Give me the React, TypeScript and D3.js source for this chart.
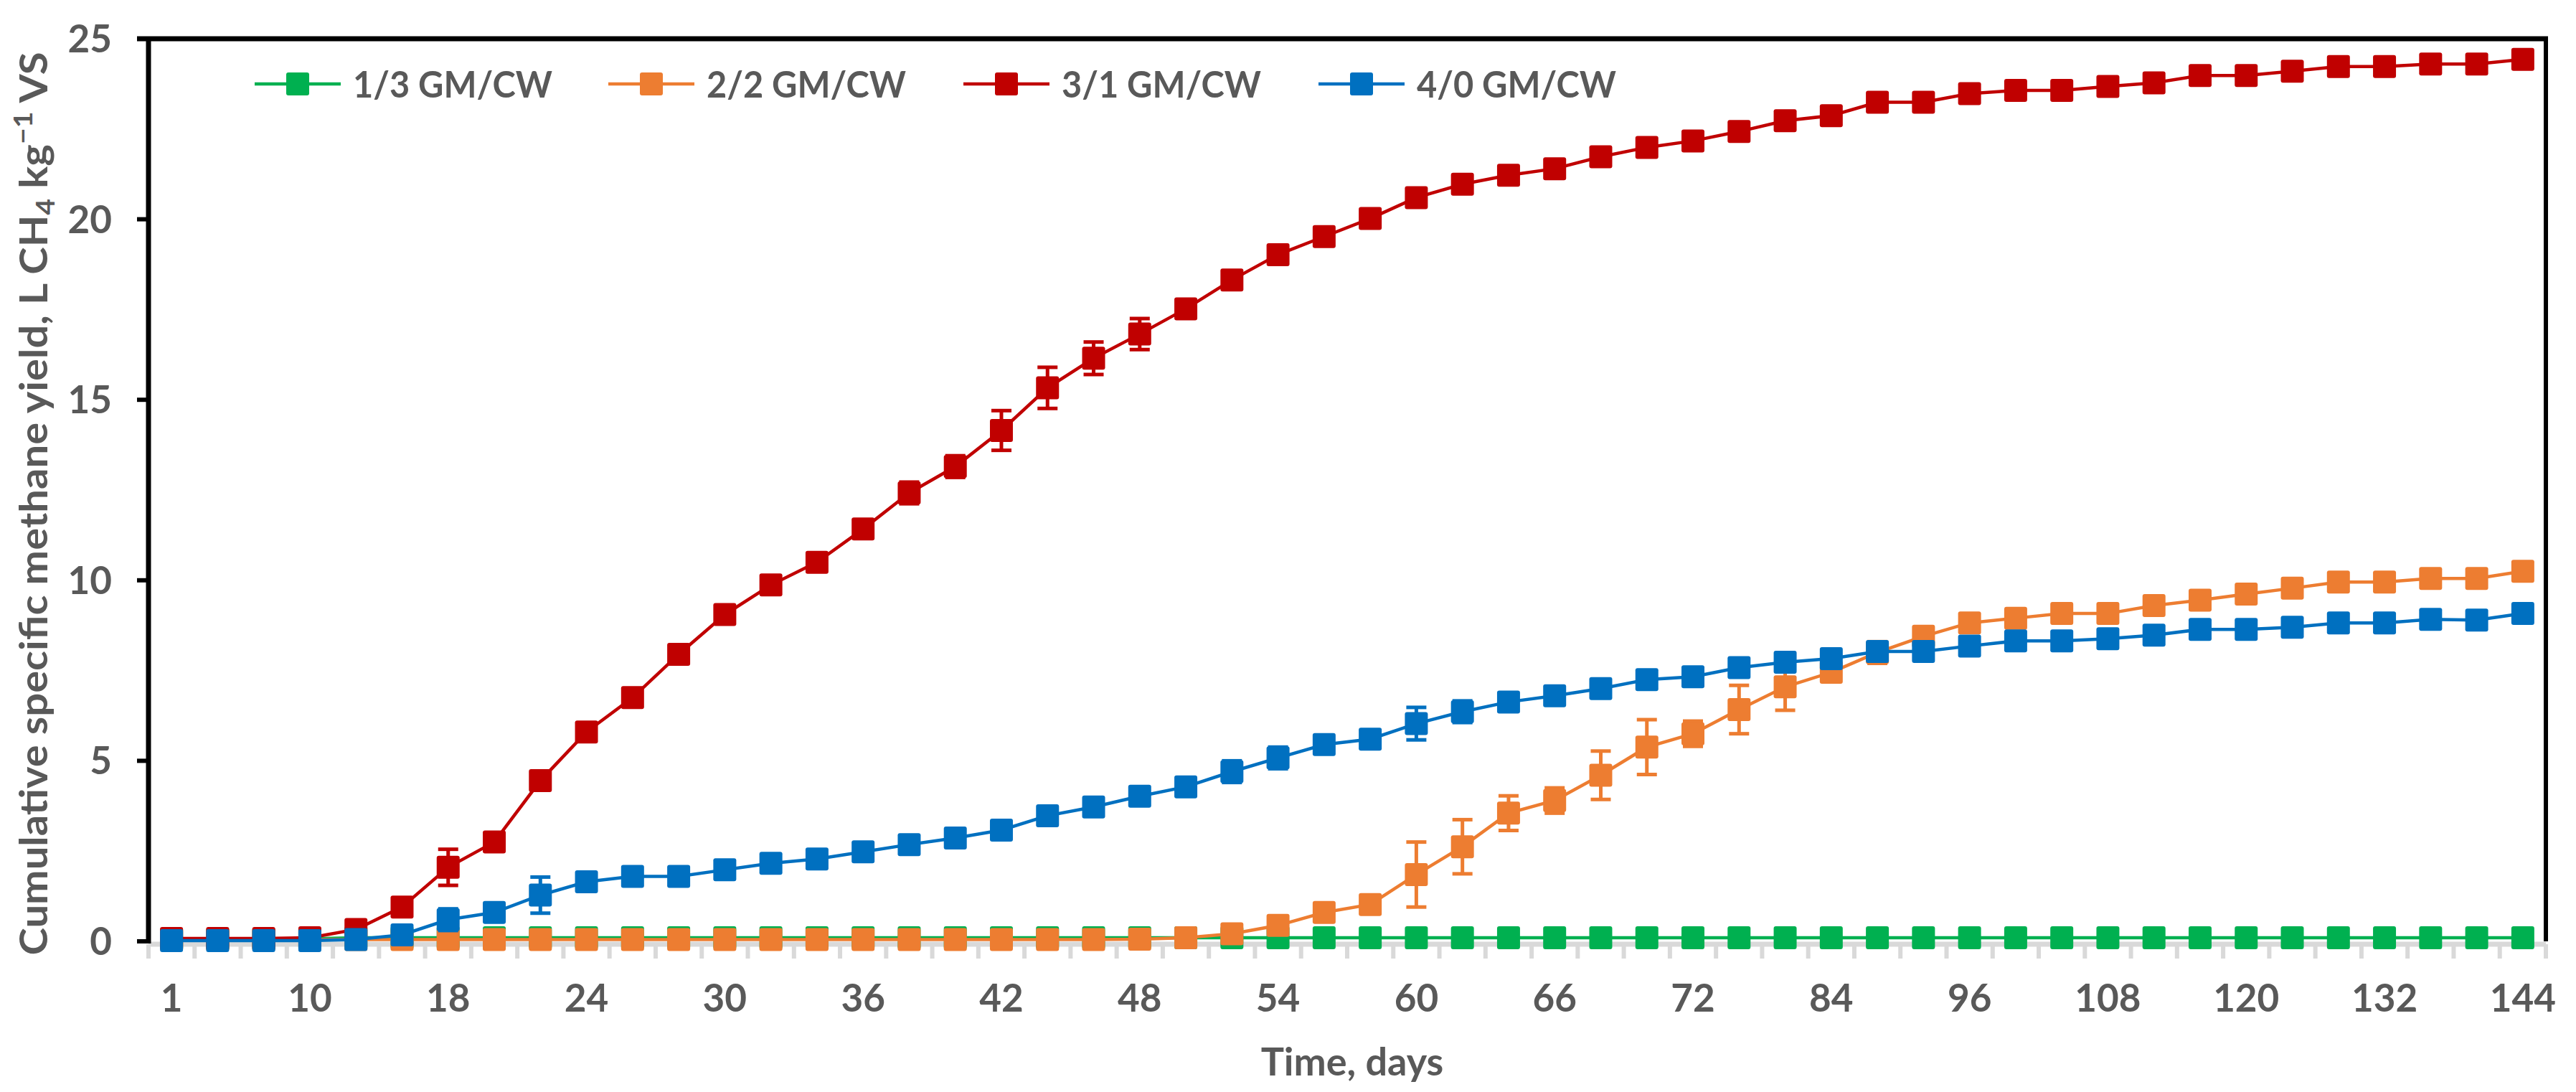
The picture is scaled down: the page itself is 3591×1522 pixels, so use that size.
import React from "react";
import * as d3 from "d3";

const days = [1, 4, 7, 10, 13, 16, 18, 20, 22, 24, 26, 28, 30, 32, 34, 36, 38, 40, 42, 44, 46, 48, 50, 52, 54, 56, 58, 60, 62, 64, 66, 68, 70, 72, 76, 80, 84, 88, 92, 96, 100, 104, 108, 112, 116, 120, 124, 128, 132, 136, 140, 144];

const seriesNames = ["1/3 GM/CW", "2/2 GM/CW", "3/1 GM/CW", "4/0 GM/CW"];
const seriesColors = ["#00B050", "#ED7D31", "#C00000", "#0070C0"];

const gm13 = [0.06, 0.06, 0.06, 0.07, 0.1, 0.1, 0.1, 0.1, 0.1, 0.1, 0.1, 0.1, 0.1, 0.1, 0.1, 0.1, 0.1, 0.1, 0.1, 0.1, 0.1, 0.1, 0.1, 0.1, 0.1, 0.1, 0.1, 0.1, 0.1, 0.1, 0.1, 0.1, 0.1, 0.1, 0.1, 0.1, 0.1, 0.1, 0.1, 0.1, 0.1, 0.1, 0.1, 0.1, 0.1, 0.1, 0.1, 0.1, 0.1, 0.1, 0.1, 0.1];
const gm22 = [0.05, 0.05, 0.05, 0.05, 0.05, 0.05, 0.05, 0.05, 0.05, 0.05, 0.05, 0.05, 0.05, 0.05, 0.05, 0.05, 0.05, 0.05, 0.05, 0.05, 0.05, 0.06, 0.1, 0.21, 0.44, 0.8, 1.02, 1.85, 2.62, 3.55, 3.9, 4.6, 5.38, 5.75, 6.42, 7.05, 7.45, 8.0, 8.45, 8.82, 8.95, 9.08, 9.08, 9.3, 9.45, 9.62, 9.78, 9.95, 9.95, 10.05, 10.05, 10.25];
const gm31 = [0.08, 0.08, 0.08, 0.1, 0.33, 0.95, 2.05, 2.75, 4.45, 5.8, 6.75, 7.95, 9.05, 9.87, 10.5, 11.42, 12.42, 13.15, 14.15, 15.33, 16.15, 16.82, 17.52, 18.32, 19.02, 19.52, 20.02, 20.6, 20.97, 21.22, 21.4, 21.73, 21.99, 22.17, 22.43, 22.73, 22.87, 23.24, 23.24, 23.48, 23.57, 23.57, 23.68, 23.78, 23.98, 23.98, 24.1, 24.23, 24.23, 24.3, 24.3, 24.43];
const gm40 = [0.02, 0.02, 0.02, 0.02, 0.05, 0.18, 0.6, 0.8, 1.28, 1.65, 1.8, 1.8, 1.98, 2.16, 2.28, 2.48, 2.68, 2.86, 3.08, 3.48, 3.72, 4.02, 4.28, 4.7, 5.08, 5.45, 5.6, 6.03, 6.36, 6.63, 6.8, 7.0, 7.25, 7.33, 7.58, 7.73, 7.83, 8.03, 8.03, 8.18, 8.32, 8.32, 8.38, 8.48, 8.64, 8.64, 8.7, 8.82, 8.82, 8.92, 8.9, 9.08];

const err13 = days.map(() => 0.02);
const err22 = [0.05, 0.05, 0.05, 0.05, 0.05, 0.05, 0.05, 0.05, 0.05, 0.05, 0.05, 0.05, 0.05, 0.05, 0.05, 0.05, 0.05, 0.05, 0.05, 0.05, 0.05, 0.05, 0.05, 0.1, 0.1, 0.12, 0.15, 0.9, 0.75, 0.48, 0.35, 0.67, 0.76, 0.35, 0.67, 0.65, 0.25, 0.3, 0.1, 0.1, 0.1, 0.1, 0.1, 0.1, 0.1, 0.1, 0.1, 0.1, 0.1, 0.1, 0.1, 0.1];
const err31 = [0.05, 0.05, 0.05, 0.05, 0.1, 0.15, 0.5, 0.1, 0.1, 0.15, 0.1, 0.1, 0.1, 0.1, 0.1, 0.1, 0.3, 0.3, 0.55, 0.57, 0.45, 0.43, 0.1, 0.25, 0.1, 0.1, 0.1, 0.1, 0.1, 0.1, 0.1, 0.1, 0.1, 0.1, 0.1, 0.1, 0.1, 0.1, 0.1, 0.1, 0.1, 0.1, 0.1, 0.1, 0.1, 0.1, 0.1, 0.1, 0.1, 0.1, 0.1, 0.1];
const err40 = [0.05, 0.05, 0.05, 0.05, 0.05, 0.1, 0.3, 0.1, 0.5, 0.15, 0.1, 0.1, 0.1, 0.1, 0.1, 0.1, 0.1, 0.1, 0.1, 0.2, 0.1, 0.1, 0.1, 0.3, 0.3, 0.2, 0.1, 0.45, 0.3, 0.1, 0.1, 0.1, 0.1, 0.1, 0.1, 0.1, 0.1, 0.1, 0.1, 0.1, 0.1, 0.1, 0.1, 0.1, 0.1, 0.1, 0.1, 0.1, 0.1, 0.1, 0.1, 0.1];

const yTicks = [0, 5, 10, 15, 20, 25];

const W = 3591;
const H = 1522;
const plotL = 207;
const plotR = 3549;
const plotT = 54;
const plotB = 1312;
const FONT = "Lato, 'Open Sans', sans-serif";
const TEXT = "#595959";

export default function App() {
  const series = [gm13, gm22, gm31, gm40];
  const errs = [err13, err22, err31, err40];
  const cats = days.map(String);

  const x = d3.scaleBand<string>().domain(cats).range([plotL, plotR]).paddingInner(0).paddingOuter(0);
  const bw = x.bandwidth();
  const cx = (i: number) => (x(cats[i]) as number) + bw / 2;
  const y = d3.scaleLinear().domain([0, 25]).range([plotB, plotT]);

  const line = d3
    .line<number>()
    .x((_, i) => cx(i))
    .y((d) => y(d));

  const ms = 32;
  const cap = 28;
  const boundaries = d3.range(cats.length + 1).map((i) => plotL + i * bw);

  const legendX = [355, 848, 1343, 1838];
  const legendY = 117;

  return (
    <svg
      width={W}
      height={H}
      viewBox={`0 0 ${W} ${H}`}
      style={{ position: "absolute", left: 0, top: 0, background: "#fff" }}
      fontFamily={FONT}
    >
      <rect x={0} y={0} width={W} height={H} fill="#fff" />
      {/* x axis gray line and ticks */}
      <line x1={plotL} x2={plotR} y1={plotB + 4} y2={plotB + 4} stroke="#D9D9D9" strokeWidth={7} />
      {boundaries.map((bx, i) => (
        <line key={"xt" + i} x1={bx} x2={bx} y1={plotB + 4} y2={plotB + 24} stroke="#D9D9D9" strokeWidth={6} />
      ))}
      {/* x tick labels */}
      {cats.map((c, i) =>
        i % 3 === 0 ? (
          <text key={"xl" + i} x={cx(i)} y={1410} textAnchor="middle" fontSize={53} fontWeight={700} fill={TEXT}>
            {c}
          </text>
        ) : null
      )}
      {/* y ticks and labels */}
      {yTicks.map((t) => (
        <g key={"yt" + t}>
          <line x1={191} x2={plotL} y1={y(t)} y2={y(t)} stroke="#000" strokeWidth={6} />
          <text x={156} y={y(t) + 19} textAnchor="end" fontSize={53} fontWeight={700} fill={TEXT}>
            {t}
          </text>
        </g>
      ))}
      {/* frame */}
      <line x1={plotL} x2={plotL} y1={plotT - 3} y2={plotB + 3} stroke="#000" strokeWidth={7} />
      <line x1={191} x2={plotR + 3} y1={plotT} y2={plotT} stroke="#000" strokeWidth={7} />
      <line x1={plotR} x2={plotR} y1={plotT - 3} y2={plotB} stroke="#000" strokeWidth={6} />

      {/* series */}
      {series.map((vals, s) => (
        <g key={"s" + s}>
          <path d={line(vals) as string} fill="none" stroke={seriesColors[s]} strokeWidth={4.5} />
          {vals.map((v, i) => {
            const e = errs[s][i];
            return (
              <g key={"e" + i} stroke={seriesColors[s]} strokeWidth={5}>
                <line x1={cx(i)} x2={cx(i)} y1={y(v + e)} y2={y(Math.max(0, v - e))} />
                <line x1={cx(i) - cap / 2} x2={cx(i) + cap / 2} y1={y(v + e)} y2={y(v + e)} />
                <line x1={cx(i) - cap / 2} x2={cx(i) + cap / 2} y1={y(v - e)} y2={y(v - e)} />
              </g>
            );
          })}
          {vals.map((v, i) => (
            <rect key={"m" + i} x={cx(i) - ms / 2} y={y(v) - ms / 2} width={ms} height={ms} rx={3} fill={seriesColors[s]} />
          ))}
        </g>
      ))}

      {/* legend */}
      {seriesNames.map((n, s) => (
        <g key={"lg" + s}>
          <line x1={legendX[s]} x2={legendX[s] + 120} y1={legendY} y2={legendY} stroke={seriesColors[s]} strokeWidth={4.5} />
          <rect x={legendX[s] + 60 - ms / 2} y={legendY - ms / 2} width={ms} height={ms} rx={3} fill={seriesColors[s]} />
          <text x={legendX[s] + 137} y={legendY + 19} fontSize={52} fontWeight={700} fill={TEXT} textLength={278} lengthAdjust="spacingAndGlyphs">
            {n}
          </text>
        </g>
      ))}

      {/* axis titles */}
      <text x={1885} y={1499} textAnchor="middle" fontSize={54} fontWeight={700} fill={TEXT}>
        Time, days
      </text>
      <text
        transform={`translate(66, 702) rotate(-90)`}
        textAnchor="middle"
        fontSize={53}
        fontWeight={700}
        fill={TEXT}
        textLength={1259}
        lengthAdjust="spacingAndGlyphs"
      >
        Cumulative specific methane yield, L CH
        <tspan fontSize={36} dy={10}>4</tspan>
        <tspan dy={-10}> kg</tspan>
        <tspan fontSize={36} dy={-21}>−1</tspan>
        <tspan dy={21}> VS</tspan>
      </text>
    </svg>
  );
}
